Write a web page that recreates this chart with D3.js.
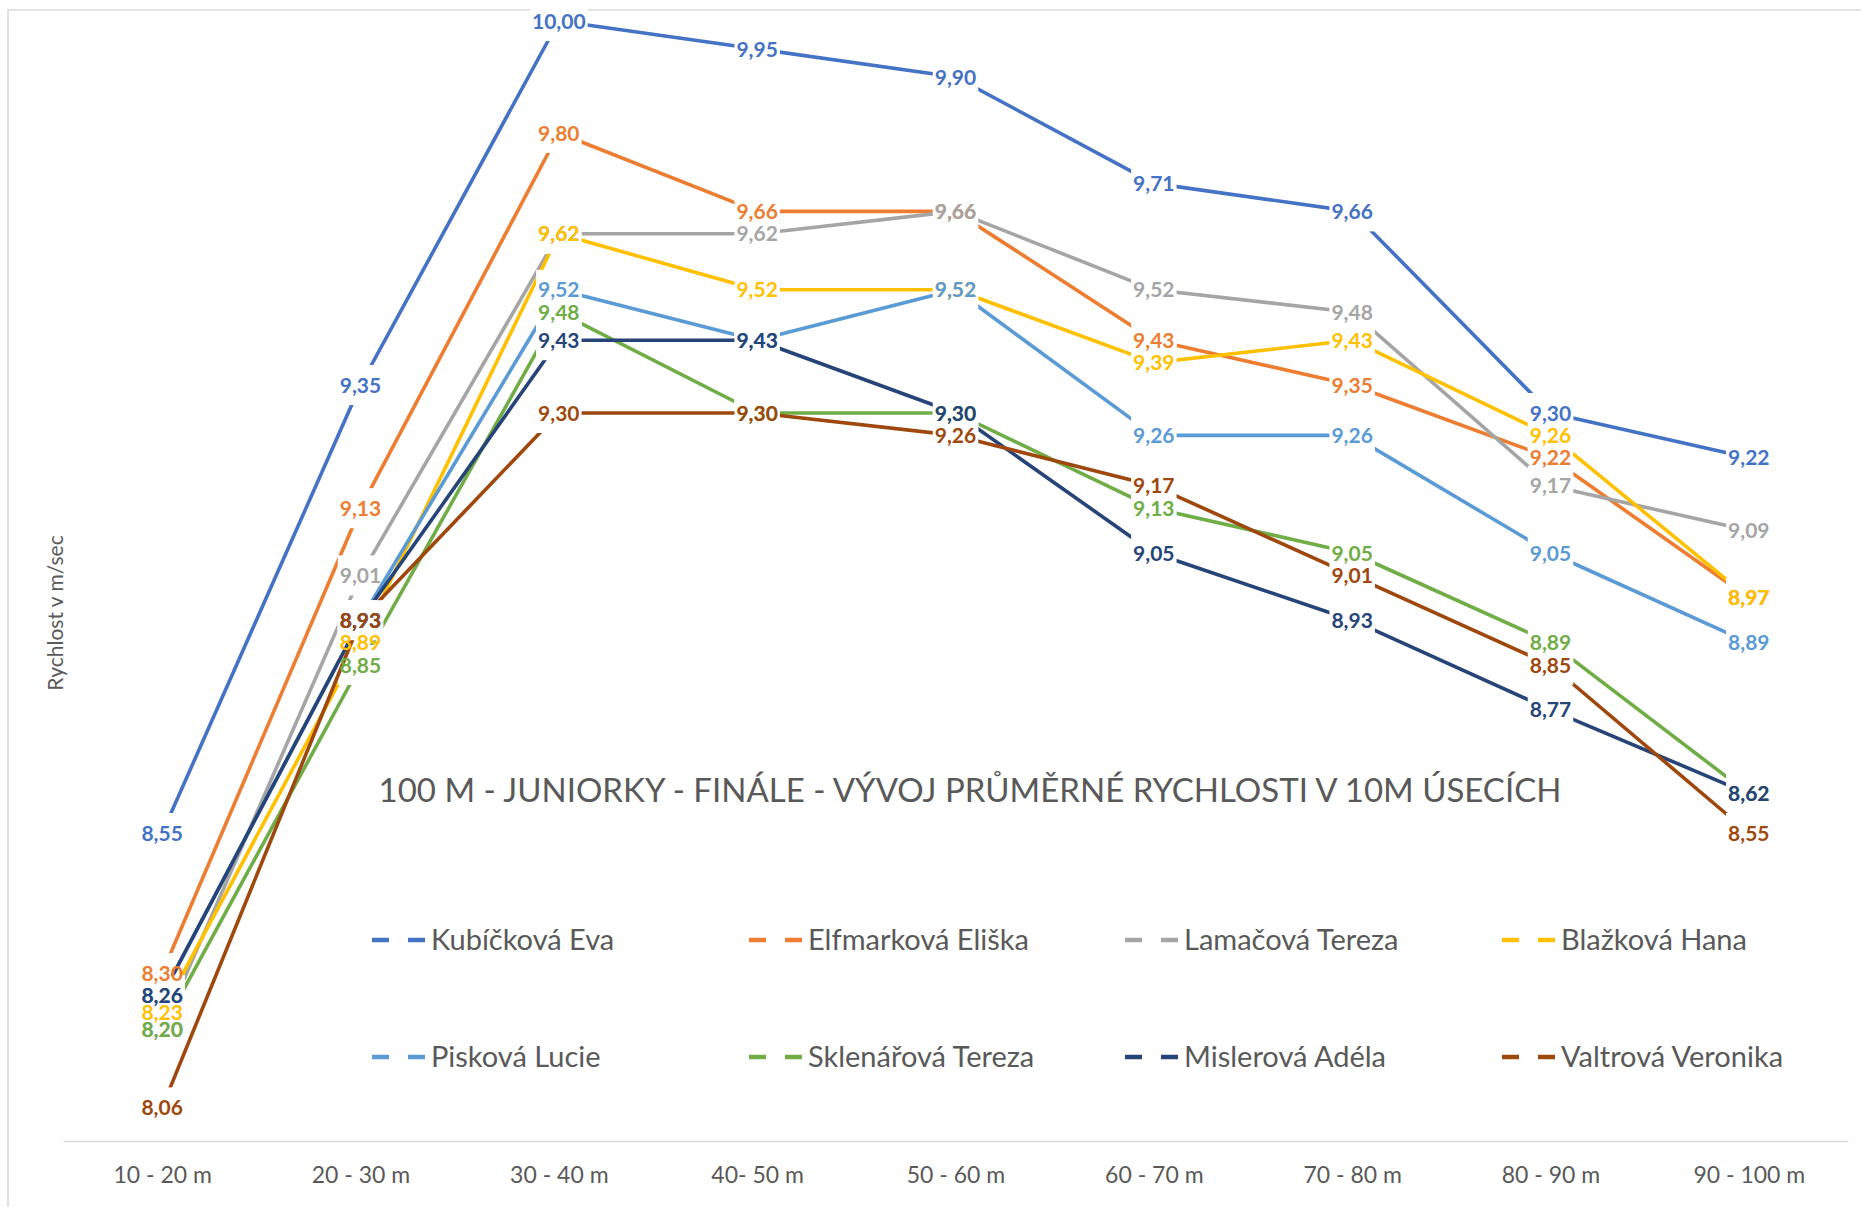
<!DOCTYPE html>
<html>
<head>
<meta charset="utf-8">
<script src="https://cdn.jsdelivr.net/npm/d3@7"></script>
<style>
    body { margin: 0; background: #fff; }
    svg { display: block; font-family: Lato, "Open Sans", sans-serif; }
</style>
</head>
<body>
<div id="graphe"></div>
<script>
// useky po 10 m
var kategorie = ["10 - 20 m", "20 - 30 m", "30 - 40 m", "40- 50 m", "50 - 60 m", "60 - 70 m", "70 - 80 m", "80 - 90 m", "90 - 100 m"];

var jmena = ["Kubíčková Eva", "Elfmarková Eliška", "Lamačová Tereza", "Blažková Hana",
             "Pisková Lucie", "Sklenářová Tereza", "Mislerová Adéla", "Valtrová Veronika"];

var barvy = ["#4472C4", "#ED7D31", "#A5A5A5", "#FFC000", "#5B9BD5", "#70AD47", "#264478", "#9E480E"];

// rychlosti v m/s
var kubickova  = [8.55, 9.35, 10.00, 9.95, 9.90, 9.71, 9.66, 9.30, 9.22];
var elfmarkova = [8.30, 9.13, 9.80, 9.66, 9.66, 9.43, 9.35, 9.22, 8.97];
var lamacova   = [8.20, 9.01, 9.62, 9.62, 9.66, 9.52, 9.48, 9.17, 9.09];
var blazkova   = [8.23, 8.89, 9.62, 9.52, 9.52, 9.39, 9.43, 9.26, 8.97];
var piskova    = [8.26, 8.93, 9.52, 9.43, 9.52, 9.26, 9.26, 9.05, 8.89];
var sklenarova = [8.20, 8.85, 9.48, 9.30, 9.30, 9.13, 9.05, 8.89, 8.62];
var mislerova  = [8.26, 8.93, 9.43, 9.43, 9.30, 9.05, 8.93, 8.77, 8.62];
var valtrova   = [8.06, 8.93, 9.30, 9.30, 9.26, 9.17, 9.01, 8.85, 8.55];

var serie = [kubickova, elfmarkova, lamacova, blazkova, piskova, sklenarova, mislerova, valtrova];

var nadpis = "100 M - JUNIORKY - FINÁLE - VÝVOJ PRŮMĚRNÉ RYCHLOSTI V 10M ÚSECÍCH";
var osaY = "Rychlost v m/sec";

var width = 1861,
    height = 1207;

var svg = d3.select("#graphe").append("svg")
    .attr("width", width)
    .attr("height", height);

// ramecek grafu
svg.append("rect")
    .attr("x", 8).attr("y", 10)
    .attr("width", 1880).attr("height", 1230)
    .attr("fill", "#fff")
    .attr("stroke", "#D9D9D9")
    .attr("stroke-width", 1.5);

var x = d3.scalePoint().domain(kategorie).range([63, 1848]).padding(0.5);
var y = d3.scaleLinear().domain([8, 10]).range([1141, 21]);

var cz = d3.formatLocale({ decimal: ",", thousands: " ", grouping: [3], currency: ["", " Kč"] });
var fmt = cz.format(".2f");

// osa x
var gx = svg.append("g")
    .attr("transform", "translate(0," + y(8) + ")")
    .call(d3.axisBottom(x).tickSize(0).tickSizeOuter(0).tickPadding(26));
gx.select(".domain").attr("stroke", "#D9D9D9").attr("stroke-width", 1.6);
gx.selectAll("text")
    .attr("font-family", "Lato")
    .attr("font-size", 23)
    .attr("fill", "#595959");

// popis osy y
svg.append("text")
    .attr("transform", "translate(56,613) rotate(-90)")
    .attr("text-anchor", "middle")
    .attr("dy", "0.35em")
    .attr("font-size", 21)
    .attr("fill", "#595959")
    .text(osaY);

// nadpis (uvnitr plochy)
svg.append("text")
    .attr("x", 970).attr("y", 790)
    .attr("text-anchor", "middle")
    .attr("dy", "0.36em")
    .attr("font-size", 33)
    .attr("fill", "#595959")
    .text(nadpis);

var line = d3.line()
    .x(function(d, i) { return x(kategorie[i]); })
    .y(function(d) { return y(d); });

// cary po seriich, kazda serie ma za sebou bile plosky kolem svych bodu
var skupiny = [];
for (var s = 0; s < serie.length; s++) {
    var g = svg.append("g");
    g.append("path")
        .datum(serie[s])
        .attr("d", line)
        .attr("fill", "none")
        .attr("stroke", barvy[s])
        .attr("stroke-width", 3.6)
        .attr("stroke-linejoin", "round");
    skupiny.push(g);
}

// popisky nakonec, nad vsemi carami
var popisky = svg.append("g");
for (var s = 0; s < serie.length; s++) {
    for (var i = 0; i < serie[s].length; i++) {
        var px = x(kategorie[i]), py = y(serie[s][i]);
        var t = popisky.append("text")
            .attr("x", px).attr("y", py)
            .attr("text-anchor", "middle")
            .attr("dy", "0.36em")
            .attr("font-size", 21)
            .attr("font-weight", "bold")
            .attr("fill", barvy[s])
            .text(fmt(serie[s][i]));
        var w = t.node().getComputedTextLength();
        skupiny[s].append("rect")
            .attr("x", px - w / 2 - 2).attr("y", py - 20)
            .attr("width", w + 4).attr("height", 40)
            .attr("fill", "#fff");
    }
}

// legenda
var legX = [372, 749, 1125, 1502];
var legY = [940, 1057];
var leg = svg.selectAll(".leg")
    .data(jmena)
    .enter()
    .append("g")
    .attr("transform", function(d, i) { return "translate(" + legX[i % 4] + "," + legY[Math.floor(i / 4)] + ")"; });

leg.append("line")
    .attr("x1", 0).attr("x2", 54)
    .attr("y1", 0).attr("y2", 0)
    .attr("stroke", function(d, i) { return barvy[i]; })
    .attr("stroke-width", 4.5)
    .attr("stroke-dasharray", "17,19");

leg.append("text")
    .attr("x", 59)
    .attr("dy", "0.36em")
    .attr("font-size", 29)
    .attr("fill", "#595959")
    .text(function(d) { return d; });
</script>
</body>
</html>
